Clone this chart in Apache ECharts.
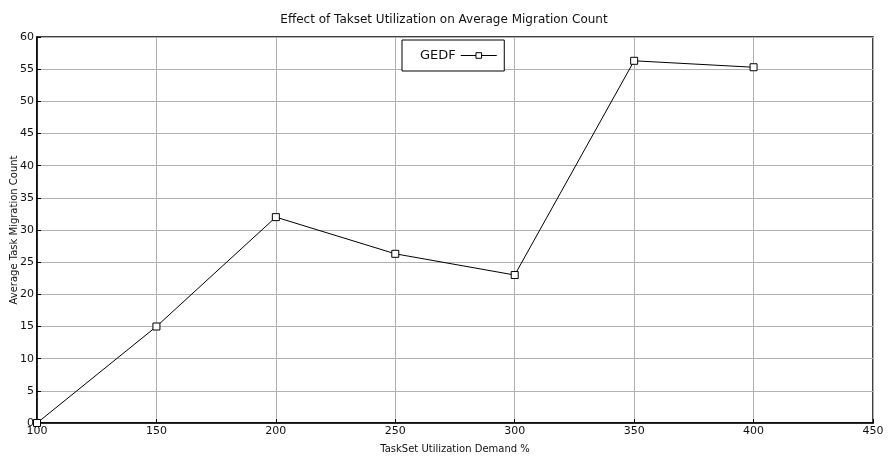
<!DOCTYPE html>
<html><head><meta charset="utf-8">
<script src="https://cdn.jsdelivr.net/npm/echarts@6/dist/echarts.min.js"></script>
<style>html,body{margin:0;padding:0;background:#fff}#c{width:888px;height:458px}</style>
</head><body><div id="c"></div>
<script>
const utilization = [100, 150, 200, 250, 300, 350, 400];
const gedf = [0, 15, 32, 26.3, 23, 56.3, 55.3];
const xTicks = [100, 150, 200, 250, 300, 350, 400, 450];
const yTicks = [0, 5, 10, 15, 20, 25, 30, 35, 40, 45, 50, 55, 60];
const font = 'DejaVu Sans';
const chart = echarts.init(document.getElementById('c'));
chart.setOption({
  animation: false,
  backgroundColor: '#fff',
  title: {text: 'Effect of Takset Utilization on Average Migration Count', left: 'center', top: 9,
    textStyle: {fontFamily: font, fontSize: 12, fontWeight: 'normal', color: '#111'}},
  grid: {left: 37, right: 15, top: 37, bottom: 35, show: true, borderColor: '#000', borderWidth: 1.5,
    containLabel: false, outerBoundsMode: 'none'},
  legend: {data: ['GEDF'], left: 402, top: 40, orient: 'horizontal', align: 'right',
    borderColor: '#000', borderWidth: 1, padding: [9, 7, 9, 18], backgroundColor: '#fff',
    itemWidth: 36, itemHeight: 7, itemGap: 6,
    lineStyle: {width: 1, color: '#000'},
    itemStyle: {color: '#fff', borderColor: '#000', borderWidth: 1},
    textStyle: {fontFamily: font, fontSize: 13, color: '#111'},
    formatter: n => n},
  xAxis: {type: 'value', min: 100, max: 450, interval: 50,
    name: 'TaskSet Utilization Demand %', nameLocation: 'middle', nameGap: 21,
    nameMoveOverlap: false,
    nameTextStyle: {fontFamily: font, fontSize: 10, color: '#111'},
    axisLine: {lineStyle: {color: '#000', width: 1.5}},
    axisTick: {inside: true, length: 4, lineStyle: {color: '#000'}},
    axisLabel: {fontFamily: font, fontSize: 11, color: '#111', margin: 3},
    splitLine: {show: true, lineStyle: {color: '#b0b0b0', width: 1}}},
  yAxis: {type: 'value', min: 0, max: 60, interval: 5,
    name: 'Average Task Migration Count', nameLocation: 'middle', nameGap: 18,
    nameMoveOverlap: false,
    nameTextStyle: {fontFamily: font, fontSize: 10, color: '#111'},
    axisLine: {lineStyle: {color: '#000', width: 1.5}},
    axisTick: {inside: true, length: 4, lineStyle: {color: '#000'}},
    axisLabel: {fontFamily: font, fontSize: 11, color: '#111', margin: 3},
    splitLine: {show: true, lineStyle: {color: '#b0b0b0', width: 1}}},
  series: [{name: 'GEDF', type: 'line', data: utilization.map((u, i) => [u, gedf[i]]),
    symbol: 'rect', symbolSize: 7, showAllSymbol: true,
    lineStyle: {color: '#000', width: 1},
    itemStyle: {color: '#fff', borderColor: '#000', borderWidth: 1}}]
});
</script></body></html>
